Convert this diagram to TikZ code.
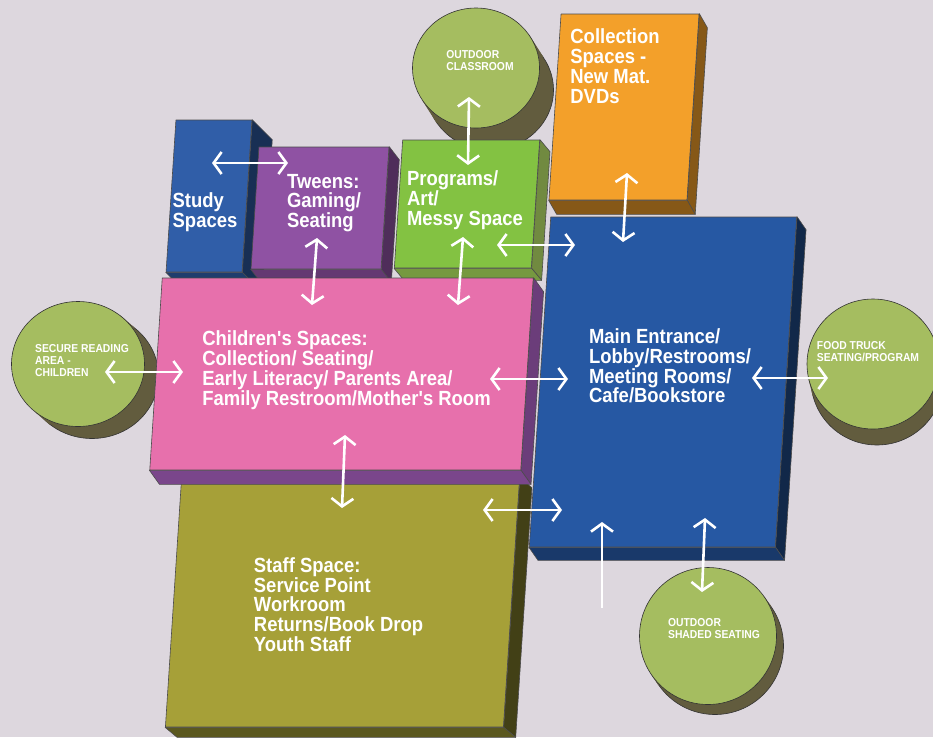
\documentclass[tikz,border=0pt]{standalone}
\usepackage{fontspec}
\setmainfont{Liberation Sans}
\newfontfamily\narrowfam[FakeStretch=0.9]{Liberation Sans}
\usetikzlibrary{shapes.geometric,arrows.meta,calc}

\definecolor{bgcol}{RGB}{221,215,222}
\definecolor{studyblue}{RGB}{48,94,168}
\definecolor{tweenpurple}{RGB}{143,82,163}
\definecolor{progreen}{RGB}{131,194,66}
\definecolor{colorange}{RGB}{243,160,42}
\definecolor{kidpink}{RGB}{231,112,172}
\definecolor{staffolive}{RGB}{166,160,56}
\definecolor{mainblue}{RGB}{38,88,163}
\definecolor{yardgreen}{RGB}{165,189,96}
\definecolor{shade}{RGB}{98,92,62}

\newcommand{\boxfont}{\narrowfam\fontsize{20.5}{19.8}\selectfont\bfseries}
\newcommand{\yardfont}{\narrowfam\fontsize{11.5}{12}\selectfont\bfseries}

\tikzset{
  block/.style={draw=black!70, line width=0.6pt, fill=#1, xslant=0.065, inner sep=0pt},
  yard/.style={ellipse, draw=black!80, line width=0.6pt, fill=yardgreen, inner sep=0pt},
  tag/.style={text=white, font=\boxfont, align=left, inner sep=0pt},
  yardtag/.style={text=white, font=\yardfont, align=left, inner sep=0pt},
  link/.style={draw=white, line width=2.6pt, {Straight Barb[length=8pt,width=22pt]}-{Straight Barb[length=8pt,width=22pt]}},
  oneway/.style={draw=white, line width=2.6pt, -{Straight Barb[length=8pt,width=22pt]}}
}

% side and bottom faces of a block
\newcommand{\extrude}[4]{%
  \path[draw=black!70, line width=0.6pt, fill=#2](#1.north east)--($(#1.north east)+(#4)$)--($(#1.south east)+(#4)$)--(#1.south east)--cycle;
  \path[draw=black!70, line width=0.6pt, fill=#3](#1.south west)--(#1.south east)--($(#1.south east)+(#4)$)--($(#1.south west)+(#4)$)--cycle;
}

\begin{document}
\begin{tikzpicture}[x=1pt, y=-1pt, line join=round]
\useasboundingbox (0,0) rectangle (933,737);
\fill[bgcol] (0,0) rectangle (933,737);

%outdoor areas
\node[yard, fill=shade, minimum width=127pt, minimum height=120pt](classdepth) at (490,90){};
\path[fill=shade](classdepth.32)--(classdepth.212)--($(classdepth.212)-(14,22)$)--($(classdepth.32)-(14,22)$)--cycle;
\node[yard, minimum width=127pt, minimum height=120pt, label={[yardtag, shift={(4,-7)}]center:OUTDOOR\\CLASSROOM}](classroom) at (476,68){};

\node[yard, fill=shade, minimum width=133pt, minimum height=125pt](securedepth) at (92,376){};
\path[fill=shade](securedepth.49)--(securedepth.229)--($(securedepth.229)-(14,12)$)--($(securedepth.49)-(14,12)$)--cycle;
\node[yard, minimum width=133pt, minimum height=125pt, label={[yardtag, shift={(4,-3)}]center:SECURE READING\\AREA -\\CHILDREN}](secure) at (78,364){};

\node[yard, fill=shade, minimum width=132pt, minimum height=130pt](fooddepth) at (877,380){};
\path[fill=shade](fooddepth.14)--(fooddepth.194)--($(fooddepth.194)-(4,16)$)--($(fooddepth.14)-(4,16)$)--cycle;
\node[yard, minimum width=132pt, minimum height=130pt, label={[yardtag, shift={(-5,-12)}]center:FOOD TRUCK\\SEATING/PROGRAM}](food) at (873,364){};

\node[yard, fill=shade, minimum width=137pt, minimum height=137pt](shadeddepth) at (715,646){};
\path[fill=shade](shadeddepth.35)--(shadeddepth.215)--($(shadeddepth.215)-(7,10)$)--($(shadeddepth.35)-(7,10)$)--cycle;
\node[yard, minimum width=137pt, minimum height=137pt, label={[yardtag, shift={(6,-7)}]center:OUTDOOR\\SHADED SEATING}](shaded) at (708,636){};

%blocks
\node[block=colorange, minimum width=138pt, minimum height=186pt, label={[tag, shift={(-9,-41)}]center:Collection\\Spaces -\\New Mat.\\DVDs}](collection) at (624,107){};
\extrude{collection}{colorange!55!black}{colorange!55!black}{8,14}

\node[block=studyblue, minimum width=76pt, minimum height=152pt, label={[tag, shift={(-4,16)}]center:Study\\Spaces}](study) at (209,196){};
\extrude{study}{studyblue!50!black}{studyblue!65!black}{20,20}

\node[block=tweenpurple, minimum width=130pt, minimum height=122pt, label={[tag, shift={(4,-5)}]center:Tweens:\\Gaming/\\Seating}](tweens) at (320,208){};
\extrude{tweens}{tweenpurple!55!black}{tweenpurple!70!black}{10,13}

\node[block=progreen, minimum width=137pt, minimum height=128pt, label={[tag, shift={(-2,-4)}]center:Programs/\\Art/\\Messy Space}](programs) at (467,204){};
\extrude{programs}{progreen!45!shade}{progreen!60!shade}{10,12}

\node[block=staffolive, minimum width=338pt, minimum height=249pt, label={[tag, shift={(-4,2)}]center:Staff Space:\\Service Point\\Workroom\\Returns/Book Drop\\Youth Staff}](staff) at (342.5,602.5){};
\extrude{staff}{staffolive!40!black}{staffolive!55!black}{12,10}

\node[block=kidpink, minimum width=371pt, minimum height=192pt, label={[tag, shift={(5,-4)}]center:Children's Spaces:\\Collection/ Seating/\\Early Literacy/ Parents Area/\\Family Restroom/Mother's Room}](children) at (341.5,374){};
\extrude{children}{tweenpurple!75!black}{tweenpurple!85!black}{10,14}

\node[block=mainblue, minimum width=246pt, minimum height=330pt, label={[tag, shift={(7,-16)}]center:Main Entrance/\\Lobby/Restrooms/\\Meeting Rooms/\\Cafe/Bookstore}](main) at (663,382){};
\extrude{main}{mainblue!45!black}{mainblue!65!black}{9,13}

%arrow ends
\coordinate (study-t) at (212,163);   \coordinate (tweens-s) at (288,163);
\coordinate (class-p) at (469,97);    \coordinate (prog-c) at (468,165);
\coordinate (tweens-k) at (317,238);  \coordinate (kids-t) at (312,305);
\coordinate (prog-k) at (463,237);    \coordinate (kids-p) at (458,305);
\coordinate (prog-m) at (497,245);    \coordinate (main-p) at (575,245);
\coordinate (coll-m) at (627,173);    \coordinate (main-c) at (623,242);
\coordinate (secure-k) at (105,372);  \coordinate (kids-s) at (183,372);
\coordinate (kids-m) at (490,379);    \coordinate (main-k) at (568,379);
\coordinate (main-f) at (752,378);    \coordinate (food-m) at (828,378);
\coordinate (kids-st) at (345,435);   \coordinate (staff-k) at (342,508);
\coordinate (staff-m) at (483,510);   \coordinate (main-st) at (562,510);
\coordinate (walk-in) at (602,608);   \coordinate (main-w) at (602,522);
\coordinate (main-sh) at (705,518);   \coordinate (shaded-m) at (702,592);

%paths
\path[link](study-t)--(tweens-s);
\path[link](class-p)--(prog-c);
\path[link](tweens-k)--(kids-t);
\path[link](prog-k)--(kids-p);
\path[link](prog-m)--(main-p);
\path[link](coll-m)--(main-c);
\path[link](secure-k)--(kids-s);
\path[link](kids-m)--(main-k);
\path[link](main-f)--(food-m);
\path[link](kids-st)--(staff-k);
\path[link](staff-m)--(main-st);
\path[oneway](walk-in)--(main-w);
\path[link](main-sh)--(shaded-m);
\end{tikzpicture}
\end{document}
